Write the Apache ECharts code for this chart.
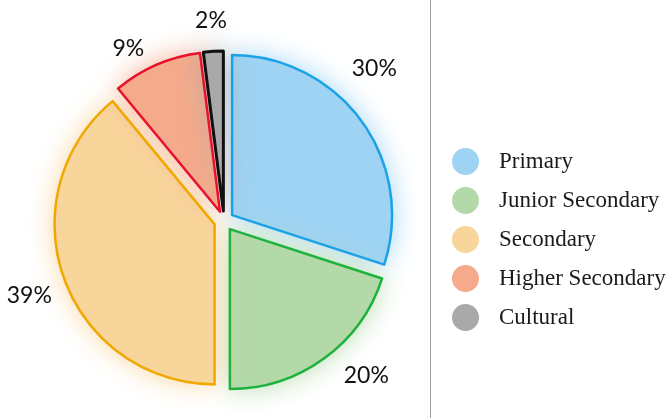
<!DOCTYPE html>
<html>
<head>
<meta charset="utf-8">
<script src="https://cdn.jsdelivr.net/npm/echarts@6/dist/echarts.min.js"></script>
<style>
html,body{margin:0;padding:0;background:#fff;}
#chart{width:669px;height:418px;}
</style>
</head>
<body>
<div id="chart"></div>
<script>
var categories = ['Primary', 'Junior Secondary', 'Secondary', 'Higher Secondary', 'Cultural'];
var values = [30, 20, 39, 9, 2];
var fillColors = ['#9ed3f4', '#b3d9a9', '#f8d59b', '#f5aa8b', '#a9a9a9'];
var lineColors = ['#1ba2e6', '#1cb23b', '#f0a800', '#e8112d', '#111111'];
// small label nudges (style only)
var labelNudge = [[-18, -30], [20, -14], [1, 4], [-13, 18], [0, 7]];

var center = [224, 221];
var R = 160;

function buildData(kind) {
  return categories.map(function (name, i) {
    var item = { name: name, value: values[i], selected: true };
    if (kind === 'fill') {
      item.itemStyle = { color: fillColors[i], shadowBlur: 28, shadowColor: fillColors[i], borderWidth: 0 };
    } else if (kind === 'line') {
      item.itemStyle = { color: 'rgba(0,0,0,0)', borderColor: lineColors[i], borderWidth: i === 4 ? 3 : 2.5 };
    } else {
      item.itemStyle = { color: 'rgba(0,0,0,0)', borderWidth: 0 };
    }
    return item;
  });
}

var common = {
  type: 'pie',
  center: center,
  startAngle: 90,
  clockwise: true,
  selectedMode: 'multiple',
  selectedOffset: 10,
  avoidLabelOverlap: false,
  emphasis: { disabled: true, scale: false },
  labelLine: { show: false }
};

var chart = echarts.init(document.getElementById('chart'), null, { renderer: 'canvas' });
chart.setOption({
  animation: false,
  backgroundColor: '#ffffff',
  legend: {
    orient: 'vertical',
    left: 447,
    top: 143,
    icon: 'circle',
    itemWidth: 27,
    itemHeight: 27,
    itemGap: 12,
    selectedMode: false,
    textStyle: { fontFamily: 'Liberation Serif', fontSize: 23, color: '#1a1a1a', padding: [0, 0, 0, 15] },
    data: categories
  },
  graphic: [{
    type: 'line',
    shape: { x1: 430.5, y1: 0, x2: 430.5, y2: 418 },
    style: { stroke: '#a0a0a0', lineWidth: 1 },
    silent: true
  }],
  series: [
    Object.assign({}, common, {
      name: 'fill', radius: [0, R], silent: true,
      label: { show: false },
      data: buildData('fill')
    }),
    Object.assign({}, common, {
      name: 'line', radius: [0, R], silent: true,
      label: { show: false },
      data: buildData('line')
    }),
    Object.assign({}, common, {
      name: 'labels', radius: [192, 218], silent: true,
      selectedOffset: 0,
      label: {
        show: true, position: 'inside',
        formatter: '{d}%',
        fontFamily: 'Lato', fontSize: 23, color: '#111111'
      },
      labelLayout: function (params) {
        var n = labelNudge[params.dataIndex] || [0, 0];
        return { dx: n[0], dy: n[1] };
      },
      data: buildData('label')
    })
  ]
});
</script>
</body>
</html>
